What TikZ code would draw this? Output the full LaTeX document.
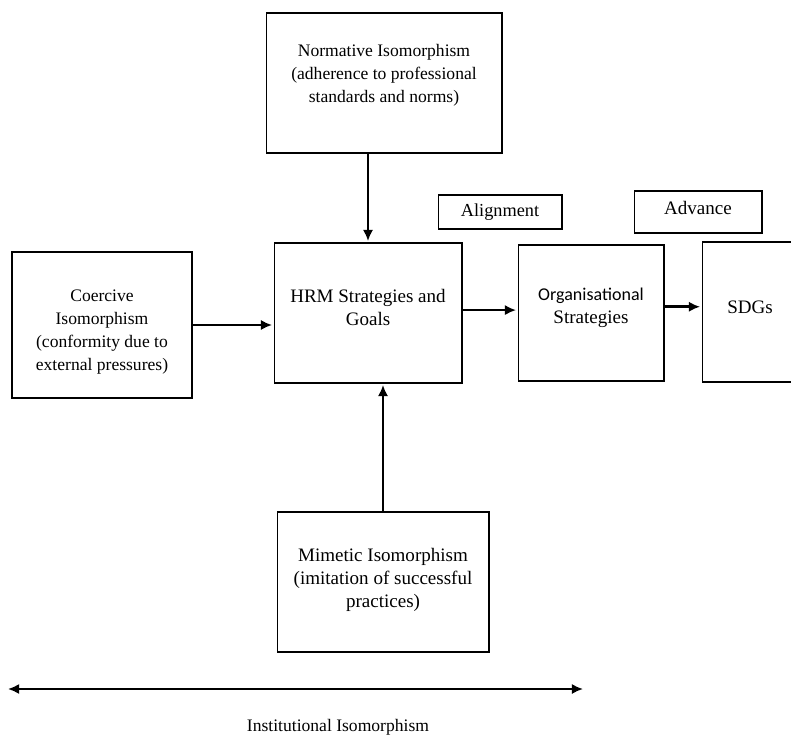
\documentclass[tikz,border=0pt]{standalone}
\usepackage{fontspec}
\setmainfont{Liberation Serif}
\newfontfamily\orgfont{Carlito}
\usetikzlibrary{arrows.meta,positioning,calc}

\begin{document}
\begin{tikzpicture}
[x=0.024cm,y=-0.024cm,
box/.style={shape=rectangle,draw=black,line width=0.7pt,inner sep=0pt},
txt/.style={align=center,font=\fontsize{12}{15.7}\selectfont,inner sep=0pt},
bigtxt/.style={txt,font=\fontsize{13}{15.7}\selectfont},
mytip/.tip={Latex[length=0.27cm,width=0.25cm]},
myedge/.style={line width=1.8pt,-mytip,shorten >=1pt}]

\useasboundingbox (0,0) rectangle (791,736);
\clip (0,0) rectangle (791,736);

% boxes
\node (norm) [box,minimum width=5.664cm,minimum height=3.36cm] at (384,83) {};
\node (hrm) [box,minimum width=4.512cm,minimum height=3.36cm] at (368,313) {};
\node (coer) [box,minimum width=4.32cm,minimum height=3.504cm] at (102,325) {};
\node (mim) [box,minimum width=5.088cm,minimum height=3.36cm] at (383,582) {};
\node (org) [box,minimum width=3.504cm,minimum height=3.264cm] at (591,313) {};
\node (sdg) [box,minimum width=2.304cm,minimum height=3.36cm] at (750,312) {};
\node (align) [box,minimum width=2.976cm,minimum height=0.816cm] at (500,212) {};
\node (adv) [box,minimum width=3.072cm,minimum height=1.008cm] at (698,212) {};

% texts
\node (normtxt) [txt] at (384,75) {Normative Isomorphism\\(adherence to professional\\standards and norms)};
\node (hrmtxt) [bigtxt] at (368,307) {HRM Strategies and\\Goals};
\node (coertxt) [txt] at (102,332) {Coercive\\Isomorphism\\(conformity due to\\external pressures)};
\node (mimtxt) [bigtxt] at (383,580) {Mimetic Isomorphism\\(imitation of successful\\practices)};
\node (orgtxt) [bigtxt] at (591,308) {{\orgfont\fontsize{12.3}{15.7}\selectfont Organisational}\\Strategies};
\node (sdgtxt) [bigtxt] at (750,307) {SDGs};
\node (aligntxt) [txt,font=\fontsize{12.5}{15}\selectfont] at (500,212) {Alignment};
\node (advtxt) [bigtxt] at (698,208) {Advance};

% arrows
\draw[myedge] (norm.south -| hrm) -- (hrm.north);
\draw[myedge] (mim.north) -- (mim.north |- hrm.south);
\draw[myedge] (coer.east) -- (coer.east -| hrm.west);
\draw[myedge] ([yshift=0.07cm]hrm.east) -- ([yshift=0.07cm]org.west);
\draw[myedge] ([yshift=0.15cm]org.east) -- ([yshift=0.15cm]org.east -| sdg.west);

\coordinate (left) at (8,689);
\coordinate (right) at (583,689);
\draw[line width=1.8pt,mytip-mytip] (left) -- (right);
\node (inst) [txt] at (338,727) {Institutional Isomorphism};

\end{tikzpicture}
\end{document}
